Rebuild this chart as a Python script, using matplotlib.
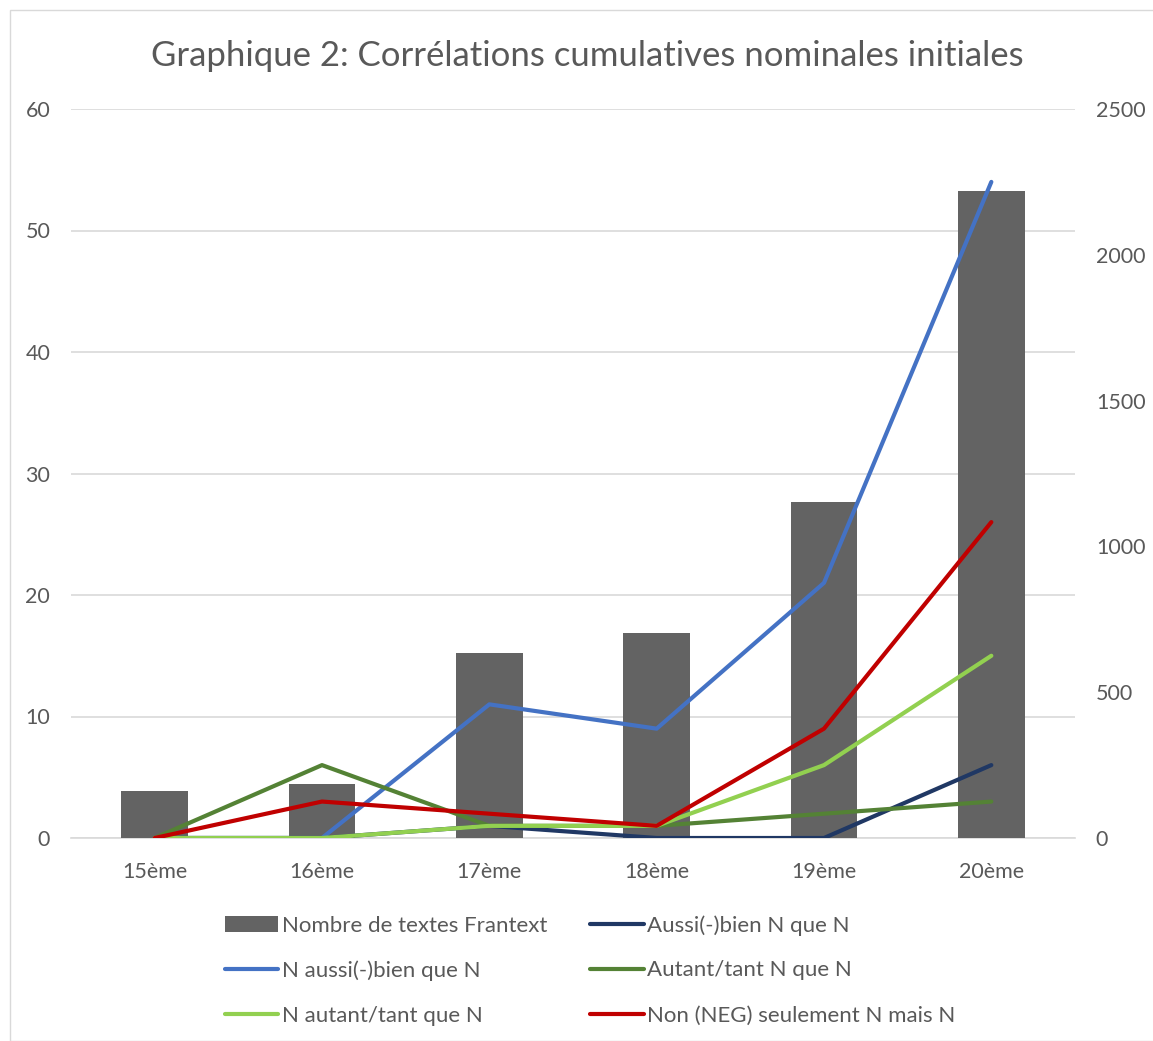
import matplotlib.pyplot as plt
from matplotlib.patches import Rectangle

plt.rcParams['font.family'] = ['Lato', 'DejaVu Sans']

siecles = ["15ème", "16ème", "17ème", "18ème", "19ème", "20ème"]
textes_frantext = [161, 185, 634, 703, 1152, 2219]

aussi_bien_n_que_n = [0, 0, 1, 0, 0, 6]
n_aussi_bien_que_n = [0, 0, 11, 9, 21, 54]
autant_n_que_n = [0, 6, 1, 1, 2, 3]
n_autant_que_n = [0, 0, 1, 1, 6, 15]
non_seulement = [0, 3, 2, 1, 9, 26]

series = [
    ("Aussi(-)bien N que N", aussi_bien_n_que_n, "#203864"),
    ("N aussi(-)bien que N", n_aussi_bien_que_n, "#4472C4"),
    ("Autant/tant N que N", autant_n_que_n, "#548235"),
    ("N autant/tant que N", n_autant_que_n, "#92D050"),
    ("Non (NEG) seulement N mais N", non_seulement, "#C00000"),
]

txt = "#595959"
grid = "#D9D9D9"

fig = plt.figure(figsize=(11.53, 10.41), dpi=100)
fig.patches.append(Rectangle((10 / 1153, 0.0), 1.2, 1 - 10 / 1041,
                             transform=fig.transFigure, fill=False,
                             edgecolor=grid, linewidth=1))

# background axes: left scale + gridlines
ax = fig.add_axes([71 / 1153, 1 - 838 / 1041, 1004 / 1153, 729 / 1041])
# bars on the right scale
ax2 = ax.twinx()
# lines on top, same scale as left axis
ax3 = ax.twinx()
ax3.set_zorder(ax2.get_zorder() + 1)
ax3.patch.set_visible(False)

x = list(range(len(siecles)))
bars = ax2.bar(x, textes_frantext, width=0.4, color="#636363",
               label="Nombre de textes Frantext")
ax2.set_ylim(0, 2500)
ax2.set_yticks([0, 500, 1000, 1500, 2000, 2500])

handles = {}
for name, vals, col in series:
    ln, = ax3.plot(x, vals, color=col, linewidth=3.0, label=name,
                   solid_capstyle="round", solid_joinstyle="round")
    handles[name] = ln

for a in (ax, ax3):
    a.set_ylim(0, 60)
    a.set_yticks(range(0, 61, 10))
ax3.set_yticks([])
ax.set_xlim(-0.5, 5.5)
ax.set_xticks(x)
ax.set_xticklabels(siecles)
ax.yaxis.grid(True, color=grid, linewidth=1.2)
ax.set_axisbelow(True)

for a in (ax, ax2, ax3):
    for s in a.spines.values():
        s.set_visible(False)
    a.tick_params(length=0, labelsize=15.5, labelcolor=txt)
ax.spines["bottom"].set_visible(True)
ax.spines["bottom"].set_color(grid)
ax.spines["bottom"].set_linewidth(1.2)
ax.tick_params(axis="y", pad=15)
ax2.tick_params(axis="y", pad=15)
ax.tick_params(axis="x", pad=17)

fig.suptitle("Graphique 2: Corrélations cumulatives nominales initiales",
             x=0.509, y=1 - 56 / 1041, va="center", fontsize=25, color=txt)

order = [bars, handles["N aussi(-)bien que N"], handles["N autant/tant que N"],
         handles["Aussi(-)bien N que N"], handles["Autant/tant N que N"],
         handles["Non (NEG) seulement N mais N"]]
fig.legend(order, [h.get_label() for h in order], ncol=2,
           loc="upper left", bbox_to_anchor=(205 / 1153, 1 - 895 / 1041),
           frameon=False, fontsize=16, labelcolor=txt, handlelength=2.4,
           handletextpad=0.15, columnspacing=1.95, labelspacing=1.12)

fig.savefig("out.png", dpi=100)
